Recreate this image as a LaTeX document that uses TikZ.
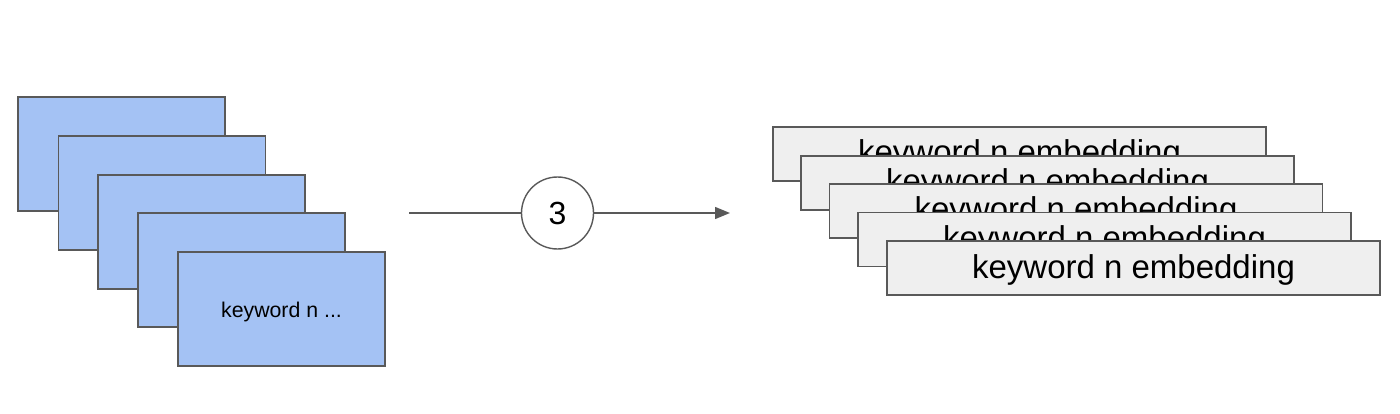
\documentclass[tikz,border=0pt]{standalone}
\usepackage{fontspec}
\setmainfont{Liberation Sans}
\usetikzlibrary{arrows.meta}
\definecolor{bluefill}{HTML}{A4C2F4}
\definecolor{grayfill}{HTML}{EFEFEF}
\definecolor{edge}{HTML}{595959}
\tikzset{
  bluecard/.style={draw=edge, line width=1.6pt, fill=bluefill, minimum width=207pt, minimum height=114pt, inner sep=0pt, text height=16pt, text depth=0pt, font=\fontsize{21.3}{24}\selectfont},
  graycard/.style={draw=edge, line width=1.6pt, fill=grayfill, minimum width=493pt, minimum height=54pt, inner sep=0pt, text height=20pt, text depth=0pt, font=\fontsize{33}{38}\selectfont},
  stepcircle/.style={circle, draw=edge, line width=1.4pt, fill=white, minimum size=72pt, inner sep=0pt, font=\fontsize{32}{36}\selectfont},
  connector/.style={draw=edge, line width=1.4pt}
}
\begin{document}
\begin{tikzpicture}[x=1pt,y=-1pt]
\useasboundingbox (0,0) rectangle (1400,414);
% blue stack
\node[bluecard] (b1) at (121.5,154) {};
\node[bluecard] (b2) at (162,193) {};
\node[bluecard] (b3) at (201.5,232) {};
\node[bluecard] (b4) at (241.5,270) {};
\node[bluecard] (b5) at (281.5,309) {keyword n ...};
% arrow with step circle
\coordinate (s) at (409,213);
\coordinate (e) at (730,213);
\node[stepcircle] (c) at (557.5,213) {3};
\draw[connector] (s) -- (c);
\draw[connector, -{Triangle[length=15pt,width=12pt]}] (c) -- (e);
% gray stack
\node[graycard] (g1) at (1019.5,154) {keyword n embedding};
\node[graycard] (g2) at (1047.5,183) {keyword n embedding};
\node[graycard] (g3) at (1076,211) {keyword n embedding};
\node[graycard] (g4) at (1104.5,239.5) {keyword n embedding};
\node[graycard] (g5) at (1133.5,268) {keyword n embedding};
\end{tikzpicture}
\end{document}
